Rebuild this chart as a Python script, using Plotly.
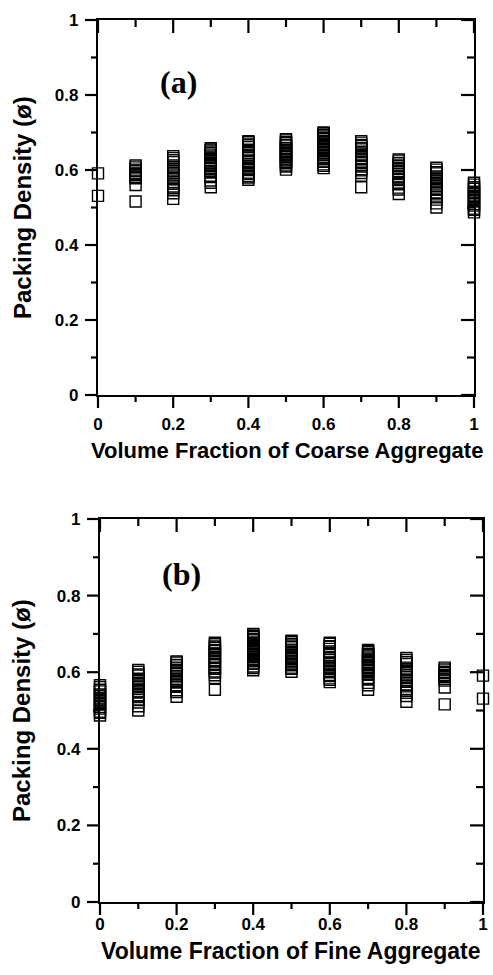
import plotly.graph_objects as go

# ---------------- data ----------------
coarse_fraction = [0.0, 0.1, 0.2, 0.3, 0.4, 0.5, 0.6, 0.7, 0.8, 0.9, 1.0]

density_c00 = [0.591, 0.531]
density_c01 = [0.612, 0.607, 0.601, 0.598, 0.593, 0.590, 0.587, 0.582, 0.578, 0.560, 0.516]
density_c02 = [0.637, 0.632, 0.626, 0.621, 0.612, 0.607, 0.601, 0.593, 0.588, 0.579,
               0.576, 0.568, 0.563, 0.556, 0.551, 0.546, 0.538, 0.523]
density_c03 = [0.658, 0.655, 0.652, 0.647, 0.645, 0.641, 0.636, 0.633, 0.631, 0.626,
               0.623, 0.618, 0.614, 0.611, 0.606, 0.603, 0.597, 0.593, 0.585, 0.581,
               0.572, 0.566, 0.554]
density_c04 = [0.677, 0.674, 0.668, 0.666, 0.661, 0.654, 0.650, 0.645, 0.639, 0.636,
               0.632, 0.625, 0.622, 0.615, 0.611, 0.604, 0.600, 0.593, 0.590, 0.584,
               0.580, 0.574]
density_c05 = [0.682, 0.679, 0.674, 0.672, 0.667, 0.665, 0.659, 0.657, 0.651, 0.649,
               0.644, 0.641, 0.636, 0.634, 0.628, 0.625, 0.621, 0.618, 0.612, 0.609, 0.601]
density_c06 = [0.700, 0.698, 0.694, 0.692, 0.687, 0.685, 0.683, 0.678, 0.676, 0.674,
               0.669, 0.667, 0.663, 0.661, 0.657, 0.655, 0.652, 0.647, 0.645, 0.641,
               0.639, 0.633, 0.630, 0.625, 0.622, 0.615, 0.611, 0.605]
density_c07 = [0.677, 0.673, 0.667, 0.664, 0.658, 0.655, 0.649, 0.647, 0.640, 0.637,
               0.631, 0.629, 0.622, 0.619, 0.612, 0.609, 0.602, 0.599, 0.592, 0.585, 0.554]
density_c08 = [0.628, 0.625, 0.619, 0.618, 0.612, 0.610, 0.605, 0.603, 0.597, 0.596,
               0.590, 0.589, 0.583, 0.581, 0.575, 0.573, 0.566, 0.562, 0.553, 0.548, 0.536]
density_c09 = [0.606, 0.601, 0.594, 0.591, 0.583, 0.580, 0.572, 0.569, 0.561, 0.557,
               0.550, 0.547, 0.539, 0.535, 0.527, 0.521, 0.511, 0.500]
density_c10 = [0.566, 0.561, 0.554, 0.550, 0.542, 0.539, 0.531, 0.528, 0.520, 0.517,
               0.509, 0.505, 0.497, 0.494, 0.487]

density_columns = [density_c00, density_c01, density_c02, density_c03, density_c04,
                   density_c05, density_c06, density_c07, density_c08, density_c09,
                   density_c10]

tick_values = [0, 0.2, 0.4, 0.6, 0.8, 1.0]
tick_labels = ["0", "0.2", "0.4", "0.6", "0.8", "1"]
minor_values = [0.1, 0.3, 0.5, 0.7, 0.9]
axis_min, axis_max = 0.0, 1.0

# flatten for traces
xa, ya = [], []
for xv, col in zip(coarse_fraction, density_columns):
    for v in col:
        xa.append(xv)
        ya.append(v)
# panel (b): fine aggregate fraction = 1 - coarse fraction
xb = [round(1 - v, 1) for v in xa]
yb = list(ya)

W, H = 493, 975
marker = dict(symbol="square-open", size=11, color="black", line=dict(width=1.4, color="black"))

# pixel boxes of the two panels: left, right, top, bottom
a_px = (98, 474, 20, 395)
b_px = (100, 483, 519, 902)


def dom(px):
    l, r, t, b = px
    return [l / W, r / W], [1 - b / H, 1 - t / H]


a_x, a_y = dom(a_px)
b_x, b_y = dom(b_px)

fig = go.Figure()
fig.add_trace(go.Scatter(x=xa, y=ya, mode="markers", marker=marker, xaxis="x", yaxis="y",
                         cliponaxis=False, showlegend=False, hoverinfo="skip"))
fig.add_trace(go.Scatter(x=xb, y=yb, mode="markers", marker=marker, xaxis="x2", yaxis="y2",
                         cliponaxis=False, showlegend=False, hoverinfo="skip"))

# ---- tick marks as paper-referenced line shapes, placed through each panel's linear scale
MAJOR, MINOR, TW = 13, 7, 2.2
shapes = []


def add_ticks(px):
    l, r, t, b = px

    def xpix(v):
        return l + (v - axis_min) / (axis_max - axis_min) * (r - l)

    def ypix(v):
        return b - (v - axis_min) / (axis_max - axis_min) * (b - t)

    def seg(x0, y0, x1, y1):
        shapes.append(dict(type="line", xref="paper", yref="paper", layer="above",
                           x0=x0 / W, x1=x1 / W, y0=1 - y0 / H, y1=1 - y1 / H,
                           line=dict(color="black", width=TW)))

    for vals, ln in ((tick_values, MAJOR), (minor_values, MINOR)):
        for v in vals:
            xp, yp = xpix(v), ypix(v)
            seg(xp, b, xp, b + ln)      # bottom, outward
            seg(xp, t, xp, t + ln)      # top, inward
            seg(l, yp, l - ln, yp)      # left, outward
            seg(r, yp, r - ln, yp)      # right, inward


add_ticks(a_px)
add_ticks(b_px)

bold_labels = ["<b>%s</b>" % s for s in tick_labels]
tickfont = dict(family="Liberation Sans, Arial", size=17, color="black")


def axis(domain, anchor, standoff):
    return dict(domain=domain, anchor=anchor, range=[axis_min, axis_max], autorange=False,
                tickmode="array", tickvals=tick_values, ticktext=bold_labels,
                ticks="", showline=True, linewidth=2.2, linecolor="black", mirror=True,
                showgrid=False, zeroline=False, tickfont=tickfont,
                ticklabelstandoff=standoff, automargin=False)


fig.update_layout(
    template="none",
    width=W, height=H, margin=dict(l=0, r=0, t=0, b=0, autoexpand=False),
    paper_bgcolor="white", plot_bgcolor="white", showlegend=False,
    xaxis=axis(a_x, "y", 12),
    yaxis=axis(a_y, "x", 14),
    xaxis2=axis(b_x, "y2", 5),
    yaxis2=axis(b_y, "x2", 14),
    shapes=shapes,
)

label_font = dict(family="Liberation Serif, Times New Roman", size=32, color="black")


def title_font(size):
    return dict(family="Liberation Sans, Arial", size=size, color="black")


annotations = [
    dict(text="<b>Volume Fraction of Coarse Aggregate</b>", x=287 / W, y=1 - 451 / H,
         xref="paper", yref="paper", showarrow=False, font=title_font(22),
         xanchor="center", yanchor="middle"),
    dict(text="<b>Volume Fraction of Fine Aggregate</b>", x=291 / W, y=1 - 951 / H,
         xref="paper", yref="paper", showarrow=False, font=title_font(23),
         xanchor="center", yanchor="middle"),
    dict(text="<b>Packing Density (ø)</b>", x=22 / W, y=1 - 208 / H, xref="paper", yref="paper",
         showarrow=False, font=title_font(24), textangle=-90, xanchor="center", yanchor="middle"),
    dict(text="<b>Packing Density (ø)</b>", x=21 / W, y=1 - 711 / H, xref="paper", yref="paper",
         showarrow=False, font=title_font(24), textangle=-90, xanchor="center", yanchor="middle"),
    dict(text="<b>(a)</b>", x=0.213, y=0.835, xref="x", yref="y", showarrow=False,
         font=label_font, xanchor="center", yanchor="middle"),
    dict(text="<b>(b)</b>", x=0.214, y=0.856, xref="x2", yref="y2", showarrow=False,
         font=label_font, xanchor="center", yanchor="middle"),
]
fig.update_layout(annotations=annotations)

fig.write_html("out.html")
